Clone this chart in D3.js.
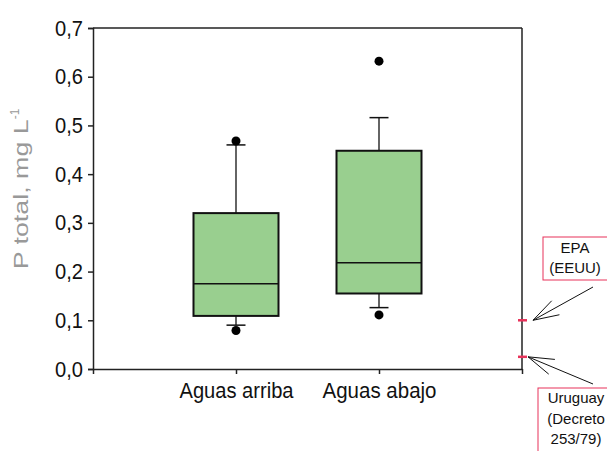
<!DOCTYPE html>
<html>
<head>
<meta charset="utf-8">
<script src="https://cdn.jsdelivr.net/npm/d3@7"></script>
<style>
  body { margin: 0; background: #fff; }
  .tick text { font-family: "Liberation Sans", Arial, sans-serif; }
</style>
</head>
<body>
<figure id="chart" style="margin:0"></figure>
<script>
// data
var categories = ["Aguas arriba", "Aguas abajo"];
var q1 = [0.109, 0.155];
var medians = [0.175, 0.218];
var q3 = [0.320, 0.448];
var whiskerLow = [0.090, 0.126];
var whiskerHigh = [0.460, 0.516];
var outliers = [[0.079, 0.468], [0.111, 0.632]];
var yTicks = [0, 0.1, 0.2, 0.3, 0.4, 0.5, 0.6, 0.7];
var limitNames = [["EPA", "(EEUU)"], ["Uruguay", "(Decreto", "253/79)"]];
var limitValues = [0.1, 0.025];

var width = 607, height = 451;
var margin = { top: 28, right: 85, bottom: 82, left: 93 };
var innerW = width - margin.left - margin.right;
var innerH = height - margin.top - margin.bottom;

var svg = d3.select("figure#chart")
  .append("svg")
  .attr("width", width)
  .attr("height", height)
  .append("g")
  .attr("transform", `translate(${margin.left},${margin.top})`);

var x = d3.scaleLinear().domain([0, 3]).range([0, innerW]);
var y = d3.scaleLinear().domain([0, 0.7]).range([innerH, 0]);
var boxW = 85;

// frame top and right
svg.append("line").attr("x1", 0).attr("x2", innerW).attr("y1", 0).attr("y2", 0)
  .attr("stroke", "#222").attr("stroke-width", 1.5);
svg.append("line").attr("x1", innerW).attr("x2", innerW).attr("y1", 0).attr("y2", innerH)
  .attr("stroke", "#222").attr("stroke-width", 1.5);

// narrow-looking text: squeeze to the width seen in the reference
var yAxis = svg.append("g")
  .call(d3.axisLeft(y).tickValues(yTicks).tickSize(5).tickPadding(5)
    .tickFormat(d => d3.format(".1f")(d).replace(".", ",")));
yAxis.select(".domain").attr("stroke", "#222").attr("stroke-width", 1.5);
yAxis.selectAll(".tick line").attr("stroke", "#222").attr("stroke-width", 1.5);
yAxis.selectAll("text").attr("font-size", 22).attr("fill", "#111")
  .attr("textLength", 28).attr("lengthAdjust", "spacingAndGlyphs");

var xAxis = svg.append("g")
  .attr("transform", `translate(0,${innerH})`)
  .call(d3.axisBottom(x).tickValues([0, 1, 2, 3]).tickSize(5).tickSizeOuter(0).tickPadding(8)
    .tickFormat(d => (d >= 1 && d <= 2) ? categories[d - 1] : ""));
xAxis.select(".domain").attr("stroke", "#222").attr("stroke-width", 1.5);
xAxis.selectAll(".tick line").attr("stroke", "#222").attr("stroke-width", 1.5);
xAxis.selectAll("text").attr("font-size", 22).attr("fill", "#111")
  .filter(d => d >= 1 && d <= 2)
  .attr("textLength", 114).attr("lengthAdjust", "spacingAndGlyphs");

var yLab = svg.append("text")
  .attr("transform", `translate(${-65},${189 - margin.top}) rotate(-90)`)
  .attr("text-anchor", "middle")
  .attr("font-family", "'Liberation Sans', Arial, sans-serif")
  .attr("font-size", 20)
  .attr("fill", "#999");
yLab.append("tspan").attr("textLength", 150).attr("lengthAdjust", "spacingAndGlyphs")
  .text("P total, mg L");
yLab.append("tspan").attr("dy", -9).attr("font-size", 12).text("-1");

// boxes
categories.forEach(function(c, i) {
  var cx = x(i + 1);
  var g = svg.append("g");
  g.append("line").attr("x1", cx).attr("x2", cx)
    .attr("y1", y(whiskerHigh[i])).attr("y2", y(q3[i]))
    .attr("stroke", "#111").attr("stroke-width", 1.3);
  g.append("line").attr("x1", cx).attr("x2", cx)
    .attr("y1", y(q1[i])).attr("y2", y(whiskerLow[i]))
    .attr("stroke", "#111").attr("stroke-width", 1.3);
  [whiskerHigh[i], whiskerLow[i]].forEach(function(v) {
    g.append("line").attr("x1", cx - 9.5).attr("x2", cx + 9.5)
      .attr("y1", y(v)).attr("y2", y(v))
      .attr("stroke", "#111").attr("stroke-width", 1.5);
  });
  g.append("rect")
    .attr("x", cx - boxW / 2).attr("width", boxW)
    .attr("y", y(q3[i])).attr("height", y(q1[i]) - y(q3[i]))
    .attr("fill", "#99cf8f").attr("stroke", "#111").attr("stroke-width", 2);
  g.append("line").attr("x1", cx - boxW / 2).attr("x2", cx + boxW / 2)
    .attr("y1", y(medians[i])).attr("y2", y(medians[i]))
    .attr("stroke", "#111").attr("stroke-width", 1.5);
  g.selectAll("circle").data(outliers[i]).enter().append("circle")
    .attr("cx", cx).attr("cy", d => y(d)).attr("r", 4.5).attr("fill", "#000");
});

// reference limits on right axis
svg.selectAll(".limit").data(limitValues).enter().append("line")
  .attr("class", "limit")
  .attr("x1", innerW - 4).attr("x2", innerW + 5)
  .attr("y1", d => y(d)).attr("y2", d => y(d))
  .attr("stroke", "#e8325a").attr("stroke-width", 2.5);

// annotation boxes and arrows (page coordinates)
var ann = d3.select("svg").append("g");
var boxes = [
  { x: 543, y: 237, w: 70, h: 43, tx: 575, ty: 253, lh: 20, ax: 593, ay: 287, tipX: 533 },
  { x: 538, y: 388, w: 80, h: 80, tx: 576, ty: 403, lh: 20.5, ax: 593, ay: 384, tipX: 528 }
];
boxes.forEach(function(b, i) {
  ann.append("rect").attr("x", b.x).attr("y", b.y).attr("width", b.w).attr("height", b.h)
    .attr("fill", "#fff").attr("stroke", "#e8325a").attr("stroke-width", 1);
  ann.selectAll(null).data(limitNames[i]).enter().append("text")
    .attr("x", b.tx).attr("y", (d, j) => b.ty + j * b.lh)
    .attr("text-anchor", "middle")
    .attr("font-family", "'Liberation Sans', Arial, sans-serif")
    .attr("font-size", 15).attr("fill", "#111")
    .text(d => d);
  var tipY = margin.top + y(limitValues[i]);
  var ang = Math.atan2(b.ay - tipY, b.ax - b.tipX);
  ann.append("line").attr("x1", b.ax).attr("y1", b.ay).attr("x2", b.tipX).attr("y2", tipY)
    .attr("stroke", "#111").attr("stroke-width", 1);
  [-0.3, 0.3].forEach(function(da) {
    ann.append("line").attr("x1", b.tipX).attr("y1", tipY)
      .attr("x2", b.tipX + 27 * Math.cos(ang + da)).attr("y2", tipY + 27 * Math.sin(ang + da))
      .attr("stroke", "#111").attr("stroke-width", 1);
  });
});
</script>
</body>
</html>
